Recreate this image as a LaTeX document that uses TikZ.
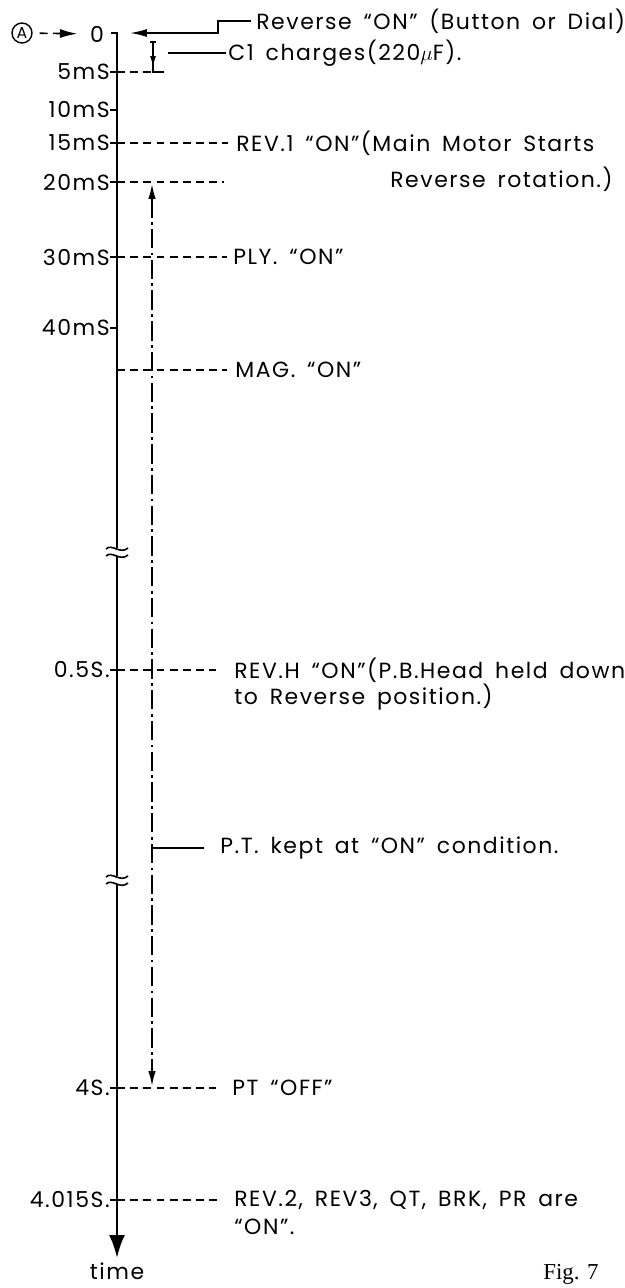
\documentclass[tikz,border=0pt]{standalone}
\usepackage{fontspec}
\setmainfont{Poppins}[LetterSpace=7.0,WordSpace=1.6]
\newfontfamily\figfont{Liberation Serif}
\usetikzlibrary{arrows.meta}
\newcommand{\lblsize}{\fontsize{12.5pt}{14pt}\selectfont}

\begin{document}
\begin{tikzpicture}[
    x=0.02cm, y=-0.02cm,
    lbl/.style={inner sep=0pt, anchor=west, font=\lblsize},
    ticklbl/.style={inner sep=0pt, anchor=east, font=\lblsize},
    axis/.style={line width=1.5pt},
    lead/.style={line width=0.9pt},
    guide/.style={line width=0.9pt, dash pattern=on 4.5pt off 3pt},
    chain/.style={line width=0.9pt, dash pattern=on 11pt off 2.5pt on 1.5pt off 2.5pt}
]
\useasboundingbox (0,0) rectangle (625,1288);

% Time axis
\coordinate (axstub) at (111,33);
\coordinate (ax0) at (117,33);
\coordinate (axend) at (117,1258);
\draw[axis, -{Latex[length=4.6mm,width=3.2mm]}] (axstub) -- (ax0) -- (axend);
\node[font=\lblsize, inner sep=0pt] (time) at (117,1271) {time};

% Breaks in the axis
\foreach \y in {552,880} {
  \fill[white] (106,\y-4) rectangle (128,\y+4);
  \draw[lead] (106,\y-3) .. controls (112,\y-9) and (120,\y+3) .. (128,\y-4);
  \draw[lead] (106,\y+4) .. controls (112,\y-2) and (120,\y+10) .. (128,\y+3);
}

% Tick labels
\foreach \y/\t/\n in {72/5mS/t5, 110/10mS/t10, 143/15mS/t15, 182/20mS/t20,
    257/30mS/t30, 328/40mS/t40, 670/0.5S./t05, 1088/4S./t4, 1200/4.015S./t4015} {
  \node[ticklbl] (\n) at (110,\y) {\t};
  \coordinate (\n-ax) at (117,\y);
  \draw[lead] (\n) -- (\n-ax);
}

% Start point
\node[circle, draw, line width=0.8pt, minimum size=0.4cm, inner sep=0pt,
    font=\fontsize{9pt}{9pt}\selectfont] (ptA) at (22,33) {A};
\node[font=\lblsize, inner sep=0pt] (zero) at (97,34) {0};
\draw[guide, -{Latex[length=3.5mm,width=1.8mm]}, shorten <=4pt, shorten >=7pt] (ptA) -- (zero);

% Events
\node[lbl] (revon) at (256,21) {Reverse “ON” (Button or Dial)};
\node[lbl] (c1) at (228,53) {C1 charges(220$\mu$F).};
\node[lbl] (rev1) at (236,143) {REV.1 “ON”(Main Motor Starts};
\node[lbl] (rev1b) at (390,179) {Reverse rotation.)};
\node[lbl] (ply) at (233,257) {PLY. “ON”};
\node[lbl] (mag) at (235,370) {MAG. “ON”};
\node[lbl] (revh) at (234,670) {REV.H “ON”(P.B.Head held down};
\node[lbl] (revhb) at (234,697) {to Reverse position.)};
\node[lbl] (ptkept) at (220,848) {P.T. kept at “ON” condition.};
\node[lbl] (ptoff) at (232,1088) {PT “OFF”};
\node[lbl] (rev2) at (234,1200) {REV.2, REV3, QT, BRK, PR are};
\node[lbl] (rev2b) at (234,1227) {“ON”.};
\node[font=\figfont\fontsize{13pt}{13pt}\selectfont, inner sep=0pt] (fig) at (571,1274) {Fig. 7};

% Reverse input
\coordinate (revstep) at (218,33);
\coordinate (revtip) at (130,33);
\draw[lead, -{Latex[length=3.4mm,width=1.6mm]}, shorten <=3pt] (revon.west) -| (revstep) -- (revtip);

% C1 charging
\coordinate (c1top) at (153,42);
\coordinate (c1bot) at (153,67);
\coordinate (c1corner) at (153,72);
\coordinate (c1end) at (164,72);
\coordinate (c1lead) at (168,53);
\draw[lead, -{Latex[length=2.2mm,width=1.2mm]}] (c1top) -- (c1bot);
\draw[lead] ([xshift=-0.06cm]c1top) -- ([xshift=0.06cm]c1top);
\draw[lead] ([yshift=0.18cm]c1corner) -- (c1corner) -- (c1end);
\draw[lead, shorten >=1pt] (c1lead) -- (c1.west);
\draw[guide] (t5-ax) -- (c1corner);

% Dashed event lines
\coordinate (g20) at (224,182);
\coordinate (magax) at (117,370);
\draw[guide, shorten >=4.5pt] (t15-ax) -- (rev1.west);
\draw[guide] (t20-ax) -- (g20);
\draw[guide, shorten >=3.5pt] (t30-ax) -- (ply.west);
\draw[guide, shorten >=4.5pt] (magax) -- (mag.west);
\draw[guide, shorten >=10pt] (t05-ax) -- (revh.west);
\draw[guide, shorten >=9pt] (t4-ax) -- (ptoff.west);
\draw[guide, shorten >=8pt] (t4015-ax) -- (rev2.west);

% P.T. hold span
\coordinate (chtop) at (152,184);
\coordinate (chbot) at (152,1086);
\coordinate (ptk) at (152,848);
\draw[chain, {Latex[length=3mm,width=1.5mm]}-{Latex[length=3mm,width=1.5mm]}] (chtop) -- (chbot);
\draw[lead, shorten >=9pt] (ptk) -- (ptkept.west);

\end{tikzpicture}
\end{document}
